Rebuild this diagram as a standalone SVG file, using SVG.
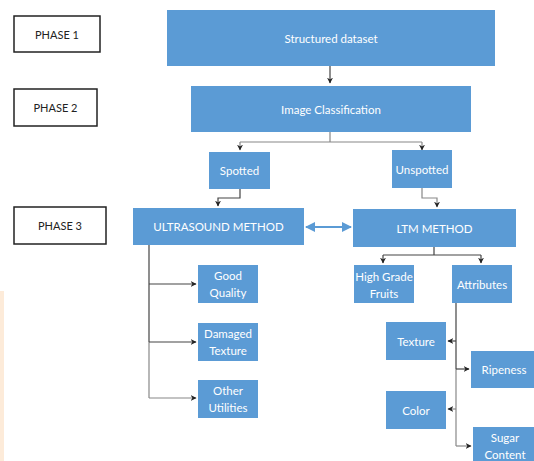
<svg xmlns="http://www.w3.org/2000/svg" width="534" height="461" viewBox="0 0 534 461">
<style>
.phase{fill:#fff;stroke:#222;stroke-width:1.5}
.node{fill:#5B9BD5}
.pt{font-family:Lato,"Liberation Sans",sans-serif;font-size:11px;fill:#222;text-anchor:middle;dominant-baseline:central}
.t{font-family:Lato,"Liberation Sans",sans-serif;font-size:11.5px;fill:#fff;text-anchor:middle;dominant-baseline:central}
.c{fill:none;stroke:#444;stroke-width:1.2}
.cl{fill:none;stroke:#888;stroke-width:1.2}
.cb{fill:none;stroke:#5B9BD5;stroke-width:2}
</style>
<defs>
<marker id="ah" viewBox="0 0 10 10" refX="9" refY="5" markerWidth="6" markerHeight="6" orient="auto-start-reverse" markerUnits="userSpaceOnUse">
<path d="M0,0 L10,5 L0,10 L3,5 Z" fill="#222"/>
</marker>
<marker id="bh" viewBox="0 0 10 10" refX="9" refY="5" markerWidth="10" markerHeight="12" orient="auto-start-reverse" markerUnits="userSpaceOnUse">
<path d="M0,0 L10,5 L0,10 Z" fill="#5B9BD5"/>
</marker>
</defs>
<rect x="0" y="291" width="4" height="170" fill="#FDEBD9"/>

<g id="phase1"><rect class="phase" x="14" y="16" width="86" height="36"/><text class="pt" x="57" y="34">PHASE 1</text></g>
<g id="phase2"><rect class="phase" x="14" y="89" width="83" height="37"/><text class="pt" x="55.5" y="107.5">PHASE 2</text></g>
<g id="phase3"><rect class="phase" x="14" y="207" width="92" height="37"/><text class="pt" x="60" y="225.5">PHASE 3</text></g>

<g id="connectors">
<path class="c" d="M330,66 V83" marker-end="url(#ah)"/>
<path class="cl" d="M330,132 V142 M240,142 H422"/>
<path class="cl" d="M240,142 V150" marker-end="url(#ah)"/>
<path class="cl" d="M422,142 V150" marker-end="url(#ah)"/>
<path class="c" d="M240,189 V198 H218 V206" marker-end="url(#ah)"/>
<path class="cl" d="M422,188 V198 H437 V207" marker-end="url(#ah)"/>
<path class="cb" d="M306,227 H351" marker-start="url(#bh)" marker-end="url(#bh)"/>
<path class="c" d="M434,247 V255 M383,255 H481"/>
<path class="c" d="M383,255 V263" marker-end="url(#ah)"/>
<path class="c" d="M481,255 V263" marker-end="url(#ah)"/>
<path class="c" d="M149,245 V342"/>
<path class="cl" d="M149,342 V398"/>
<path class="c" d="M149,284 H196" marker-end="url(#ah)"/>
<path class="c" d="M149,342 H196" marker-end="url(#ah)"/>
<path class="cl" d="M149,398 H196" marker-end="url(#ah)"/>
<path class="c" d="M456,303 V369"/>
<path class="cl" d="M456,369 V446"/>
<path class="c" d="M456,341 H448" marker-end="url(#ah)"/>
<path class="c" d="M456,369 H469" marker-end="url(#ah)"/>
<path class="cl" d="M456,409 H448" marker-end="url(#ah)"/>
<path class="cl" d="M456,446 H471" marker-end="url(#ah)"/>
</g>

<g id="structured"><rect class="node" x="167" y="10" width="328" height="56"/><text class="t" x="331" y="38">Structured dataset</text></g>
<g id="imgclass"><rect class="node" x="191" y="86" width="280" height="46"/><text class="t" x="331" y="109">Image Classification</text></g>
<g id="spotted"><rect class="node" x="209" y="152" width="61" height="37"/><text class="t" x="239.5" y="170.5">Spotted</text></g>
<g id="unspotted"><rect class="node" x="392" y="150" width="60" height="38"/><text class="t" x="422" y="169">Unspotted</text></g>
<g id="ultrasound"><rect class="node" x="133" y="208" width="171" height="37"/><text class="t" x="218.5" y="226.5">ULTRASOUND METHOD</text></g>
<g id="ltm"><rect class="node" x="353" y="209" width="163" height="38"/><text class="t" x="434.5" y="228">LTM METHOD</text></g>
<g id="highgrade"><rect class="node" x="354" y="265" width="60" height="38"/><text class="t" x="384" y="276">High Grade</text><text class="t" x="384" y="293">Fruits</text></g>
<g id="attributes"><rect class="node" x="452" y="265" width="60" height="38"/><text class="t" x="482" y="284">Attributes</text></g>
<g id="good"><rect class="node" x="198" y="265" width="60" height="38"/><text class="t" x="228" y="275.5">Good</text><text class="t" x="228" y="292.5">Quality</text></g>
<g id="damaged"><rect class="node" x="198" y="323" width="60" height="38"/><text class="t" x="228" y="333.5">Damaged</text><text class="t" x="228" y="350.5">Texture</text></g>
<g id="other"><rect class="node" x="198" y="380" width="60" height="38"/><text class="t" x="228" y="390.5">Other</text><text class="t" x="228" y="407.5">Utilities</text></g>
<g id="texture"><rect class="node" x="386" y="322" width="60" height="38"/><text class="t" x="416" y="341">Texture</text></g>
<g id="ripeness"><rect class="node" x="471" y="351" width="66" height="37"/><text class="t" x="504" y="369.5">Ripeness</text></g>
<g id="color"><rect class="node" x="386" y="391" width="60" height="38"/><text class="t" x="416" y="410">Color</text></g>
<g id="sugar"><rect class="node" x="473" y="427" width="64" height="37"/><text class="t" x="505" y="437.5">Sugar</text><text class="t" x="505" y="454">Content</text></g>
</svg>
